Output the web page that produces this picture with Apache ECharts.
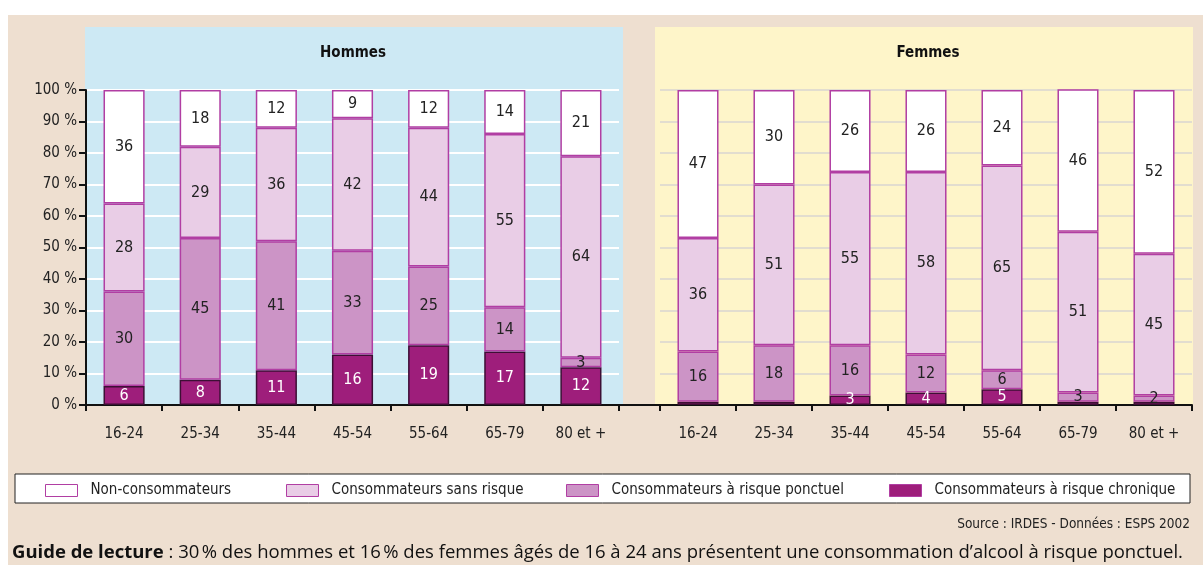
<!DOCTYPE html>
<html>
<head>
<meta charset="utf-8">
<script src="https://cdn.jsdelivr.net/npm/echarts@6/dist/echarts.min.js"></script>
<style>
  html, body { margin: 0; padding: 0; background: #fff; }
  #chart { width: 1203px; height: 565px; }
</style>
</head>
<body>
<div id="chart"></div>
<script>
// age groups and shares (%)
const ageGroups = ['16-24', '25-34', '35-44', '45-54', '55-64', '65-79', '80 et +']
const yTicks = [0, 10, 20, 30, 40, 50, 60, 70, 80, 90, 100]

const hommesChronique = [6, 8, 11, 16, 19, 17, 12]
const hommesPonctuel = [30, 45, 41, 33, 25, 14, 3]
const hommesSansRisque = [28, 29, 36, 42, 44, 55, 64]
const hommesNon = [36, 18, 12, 9, 12, 14, 21]

const femmesChronique = [1, 1, 3, 4, 5, 1, 1]
const femmesPonctuel = [16, 18, 16, 12, 6, 3, 2]
const femmesSansRisque = [36, 51, 55, 58, 65, 51, 45]
const femmesNon = [47, 30, 26, 26, 24, 46, 52]

const seriesNames = [
  'Non-consommateurs',
  'Consommateurs sans risque',
  'Consommateurs à risque ponctuel',
  'Consommateurs à risque chronique',
]

const FONT = '"DejaVu Sans Condensed", "Liberation Sans Narrow", "Roboto", sans-serif'
const FONT_WIDE = '"Open Sans", "Liberation Sans", sans-serif'
const PURPLE = '#b13ea3'
const colors = {
  non: '#ffffff',
  sans: '#e9cde6',
  ponctuel: '#cc94c6',
  chronique: '#9e1e7b',
}

const chart = echarts.init(document.getElementById('chart'))

function makeBar(name, data, grid, color, labelColor, borderColor) {
  return {
    name,
    type: 'bar',
    stack: 'g' + grid,
    xAxisIndex: grid,
    yAxisIndex: grid,
    data,
    barWidth: '54%',
    itemStyle: { color, borderColor: borderColor || PURPLE, borderWidth: 1.5 },
    label: {
      show: true,
      position: 'inside',
      color: labelColor,
      fontFamily: FONT,
      fontSize: 16,
      formatter: (p) => (p.value >= 2 ? p.value : ''),
    },
  }
}

const xAxisBase = {
  type: 'category',
  data: ageGroups,
  axisLine: { lineStyle: { color: '#111', width: 2 } },
  axisTick: { show: true, length: 6, lineStyle: { color: '#111', width: 2 } },
  axisLabel: { color: '#222', fontFamily: FONT, fontSize: 15, margin: 22 },
}

const legendPos = [45, 286, 566, 889]

const option = {
  backgroundColor: '#ffffff',
  animation: false,
  graphic: [
    { type: 'rect', z: -10, silent: true, shape: { x: 8, y: 15, width: 1195, height: 550 }, style: { fill: '#eedfd0' } },
    { type: 'rect', z: -9, silent: true, shape: { x: 85, y: 27, width: 538, height: 378 }, style: { fill: '#cde9f4' } },
    { type: 'rect', z: -9, silent: true, shape: { x: 655, y: 27, width: 538, height: 378 }, style: { fill: '#fef5c9' } },
    { type: 'line', z: 10, silent: true, shape: { x1: 619, y1: 405, x2: 660, y2: 405 }, style: { stroke: '#111', lineWidth: 2 } },
    { type: 'rect', z: -8, silent: true, shape: { x: 15, y: 474, width: 1175, height: 29 }, style: { fill: '#ffffff', stroke: '#222', lineWidth: 1 } },
    { type: 'text', silent: true, style: { text: 'Hommes', x: 353, y: 53, textAlign: 'center', textVerticalAlign: 'middle', fill: '#111', font: 'bold 15px ' + FONT } },
    { type: 'text', silent: true, style: { text: 'Femmes', x: 928, y: 53, textAlign: 'center', textVerticalAlign: 'middle', fill: '#111', font: 'bold 15px ' + FONT } },
    { type: 'text', silent: true, style: { text: 'Source : IRDES - Données : ESPS 2002', x: 1190, y: 524, textAlign: 'right', textVerticalAlign: 'middle', fill: '#222', font: '13.5px ' + FONT } },
    {
      type: 'text', silent: true,
      style: {
        text: '{b|Guide de lecture} : 30\u202F% des hommes et 16\u202F% des femmes âgés de 16 à 24 ans présentent une consommation d’alcool à risque ponctuel.',
        x: 12, y: 553, textVerticalAlign: 'middle', fill: '#111', font: '18.5px ' + FONT_WIDE,
        rich: { b: { fontWeight: 'bold', fontSize: 18.5, fontFamily: FONT_WIDE, fill: '#111' } },
      },
    },
  ],
  legend: seriesNames.map((n, i) => ({
    data: [{ name: n, itemStyle: { borderColor: PURPLE, borderWidth: 1 } }],
    left: legendPos[i],
    top: 483,
    padding: 0,
    icon: 'rect',
    itemWidth: 32,
    itemHeight: 12,
    itemGap: 10,
    selectedMode: false,
    textStyle: { color: '#222', fontFamily: FONT, fontSize: 15, padding: [0, 0, 0, 8] },
  })),
  grid: [
    { left: 86, right: 584, top: 90, bottom: 160 },
    { left: 660, right: 11, top: 90, bottom: 160 },
  ],
  xAxis: [
    { ...xAxisBase, gridIndex: 0 },
    { ...xAxisBase, gridIndex: 1 },
  ],
  yAxis: [
    {
      type: 'value',
      gridIndex: 0,
      min: yTicks[0],
      max: yTicks[yTicks.length - 1],
      interval: 10,
      axisLine: { show: true, lineStyle: { color: '#111', width: 2 } },
      axisTick: { show: true, length: 7, lineStyle: { color: '#111', width: 2 } },
      axisLabel: { color: '#222', fontFamily: FONT, fontSize: 15, margin: 9, formatter: '{value} %' },
      splitLine: { lineStyle: { color: '#ffffff', width: 2 } },
    },
    {
      type: 'value',
      gridIndex: 1,
      min: yTicks[0],
      max: yTicks[yTicks.length - 1],
      interval: 10,
      axisLine: { show: false },
      axisTick: { show: false },
      axisLabel: { show: false },
      splitLine: { lineStyle: { color: '#e2ddcf', width: 2 } },
    },
  ],
  series: [
    makeBar(seriesNames[3], hommesChronique, 0, colors.chronique, '#ffffff', '#3d0f35'),
    makeBar(seriesNames[2], hommesPonctuel, 0, colors.ponctuel, '#222'),
    makeBar(seriesNames[1], hommesSansRisque, 0, colors.sans, '#222'),
    makeBar(seriesNames[0], hommesNon, 0, colors.non, '#222'),
    makeBar(seriesNames[3], femmesChronique, 1, colors.chronique, '#ffffff', '#3d0f35'),
    makeBar(seriesNames[2], femmesPonctuel, 1, colors.ponctuel, '#222'),
    makeBar(seriesNames[1], femmesSansRisque, 1, colors.sans, '#222'),
    makeBar(seriesNames[0], femmesNon, 1, colors.non, '#222'),
  ],
}

chart.setOption(option)
</script>
</body>
</html>
